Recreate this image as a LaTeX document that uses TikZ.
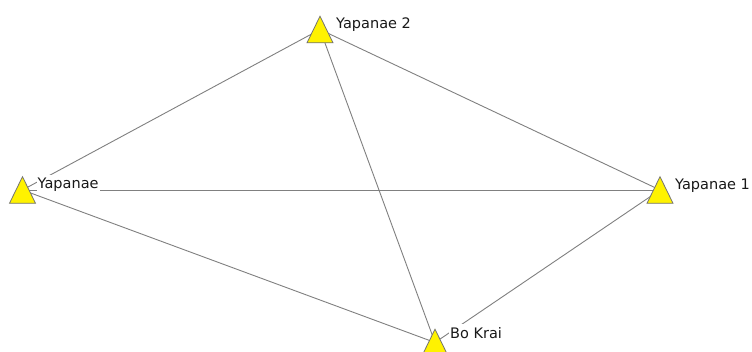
\documentclass[tikz,border=0pt]{standalone}
\usepackage{fontspec}
\setmainfont{DejaVu Sans}
\begin{document}
\begin{tikzpicture}[x=1pt,y=-1pt,
  edge/.style={draw=black!50, line width=0.9pt},
  lbl/.style={fill=white, inner xsep=1pt, inner ysep=3pt, anchor=base west, text=black!90,
              font=\fontsize{14.5}{16}\selectfont},
  tri/.style={fill=yellow, draw=black!55, line width=0.8pt, line join=miter}]
\clip (0,0) rectangle (752,352);
\fill[white] (0,0) rectangle (752,352);
% node centres
\coordinate (ya) at (22.5,190);
\coordinate (y2) at (320,29.5);
\coordinate (y1) at (660,190);
\coordinate (bk) at (435,342.5);
% edges
\draw[edge] (ya) -- (y2);
\draw[edge] (ya) -- (y1);
\draw[edge] (ya) -- (bk);
\draw[edge] (y2) -- (y1);
\draw[edge] (y2) -- (bk);
\draw[edge] (y1) -- (bk);
% labels
\node[lbl] (lya) at (36.5,189) {Yapanae};
\node[lbl] (ly2) at (335,29) {Yapanae 2};
\node[lbl] (ly1) at (674,190) {Yapanae 1};
\node[lbl] (lbk) at (449,338.5) {Bo Krai};
% triangles
\foreach \c in {ya,y2,y1,bk}{
  \draw[tri, shift={(\c)}] (0,-13.3) -- (13,13.3) -- (-13,13.3) -- cycle;
}
\end{tikzpicture}
\end{document}
